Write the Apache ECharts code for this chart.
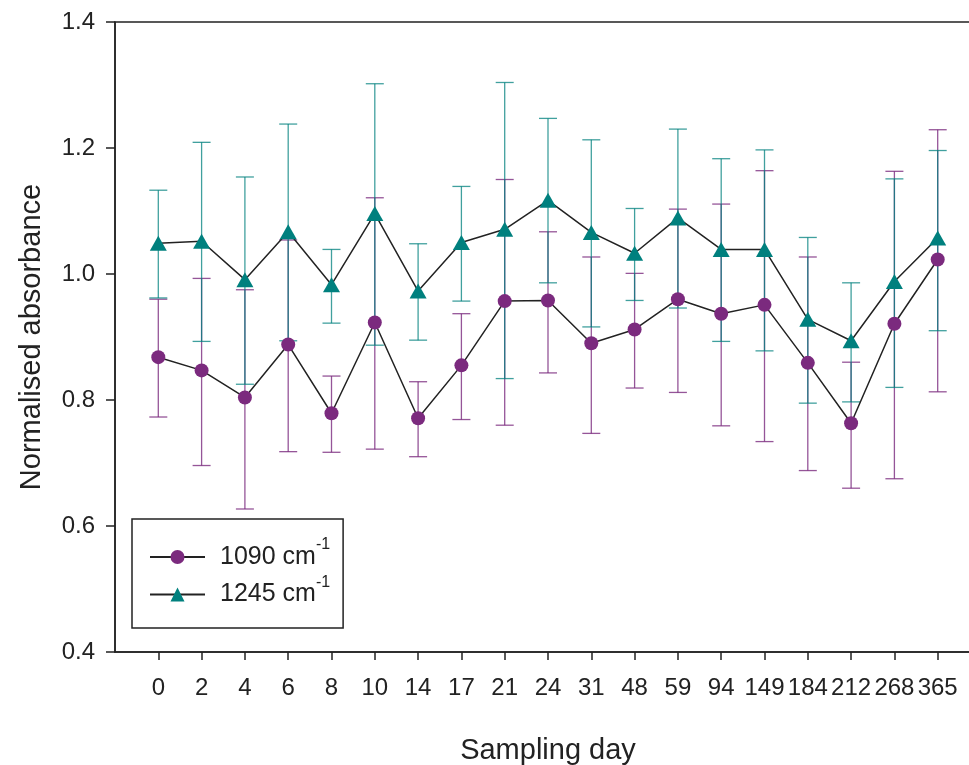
<!DOCTYPE html>
<html>
<head>
<meta charset="utf-8">
<script src="https://cdn.jsdelivr.net/npm/echarts@6/dist/echarts.min.js"></script>
<style>
  html, body { margin: 0; padding: 0; background: #fff; }
  #chart { width: 969px; height: 765px; }
</style>
</head>
<body>
<div id="chart"></div>
<script>
// Sampling days (category labels on the x axis)
const days = ['0', '2', '4', '6', '8', '10', '14', '17', '21', '24', '31', '48', '59', '94', '149', '184', '212', '268', '365'];

// 1090 cm-1 band: mean, lower and upper error-bar ends
const mean1090 = [0.868, 0.847, 0.804, 0.888, 0.779, 0.923, 0.771, 0.855, 0.957, 0.958, 0.890, 0.912, 0.960, 0.937, 0.951, 0.859, 0.763, 0.921, 1.023];
const low1090  = [0.773, 0.696, 0.627, 0.718, 0.717, 0.722, 0.710, 0.769, 0.760, 0.843, 0.747, 0.819, 0.812, 0.759, 0.734, 0.688, 0.660, 0.675, 0.813];
const high1090 = [0.960, 0.993, 0.975, 1.054, 0.838, 1.121, 0.829, 0.937, 1.150, 1.067, 1.027, 1.001, 1.103, 1.111, 1.164, 1.027, 0.860, 1.163, 1.229];

// 1245 cm-1 band: mean, lower and upper error-bar ends
const mean1245 = [1.049, 1.052, 0.991, 1.067, 0.983, 1.096, 0.973, 1.050, 1.071, 1.117, 1.066, 1.033, 1.089, 1.039, 1.039, 0.928, 0.894, 0.988, 1.057];
const low1245  = [0.962, 0.893, 0.825, 0.894, 0.922, 0.887, 0.895, 0.957, 0.834, 0.986, 0.916, 0.958, 0.946, 0.893, 0.878, 0.795, 0.797, 0.820, 0.910];
const high1245 = [1.133, 1.209, 1.154, 1.238, 1.039, 1.302, 1.048, 1.139, 1.304, 1.247, 1.213, 1.104, 1.230, 1.183, 1.197, 1.058, 0.986, 1.151, 1.196];

// y axis ticks
const yTicks = [0.4, 0.6, 0.8, 1.0, 1.2, 1.4];

const PURPLE = '#7b2a7e';
const TEAL = '#00807e';
const INK = '#222222';
const FONT = '"Liberation Sans", Arial, Helvetica, sans-serif';

const idx = days.map((d, i) => i);

function errorData(low, high) {
  return idx.map(i => [i, low[i], high[i]]);
}

function errorBars(color, opacity) {
  return function (params, api) {
    const x = api.value(0);
    const top = api.coord([x, api.value(2)]);
    const bot = api.coord([x, api.value(1)]);
    const half = 9;
    const style = { stroke: color, lineWidth: 1.3, opacity: opacity };
    return {
      type: 'group',
      children: [
        { type: 'line', shape: { x1: top[0], y1: top[1], x2: bot[0], y2: bot[1] }, style: style },
        { type: 'line', shape: { x1: top[0] - half, y1: top[1], x2: top[0] + half, y2: top[1] }, style: style },
        { type: 'line', shape: { x1: bot[0] - half, y1: bot[1], x2: bot[0] + half, y2: bot[1] }, style: style }
      ]
    };
  };
}

const chart = echarts.init(document.getElementById('chart'), null, { renderer: 'canvas' });

chart.setOption({
  animation: false,
  backgroundColor: '#ffffff',
  textStyle: { fontFamily: FONT },
  grid: {
    left: 115, top: 22, bottom: 113, right: -12,
    outerBoundsMode: 'none',
    show: true, borderColor: INK, borderWidth: 1.5, backgroundColor: 'transparent'
  },
  xAxis: {
    type: 'value',
    min: -1, max: 19, interval: 1,
    splitLine: { show: false },
    axisLine: { show: true, onZero: false, lineStyle: { color: INK, width: 1.5 } },
    axisTick: { show: true, length: 8, customValues: idx, lineStyle: { color: INK, width: 1.5 } },
    axisLabel: {
      customValues: idx,
      formatter: v => days[Math.round(v)],
      color: INK, fontSize: 24, margin: 24, fontFamily: FONT
    },
    name: 'Sampling day',
    nameLocation: 'middle',
    nameGap: 84,
    nameTextStyle: { color: INK, fontSize: 29, fontFamily: FONT }
  },
  yAxis: {
    type: 'value',
    min: 0.4, max: 1.4, interval: 0.2,
    splitLine: { show: false },
    axisLine: { show: true, onZero: false, lineStyle: { color: INK, width: 1.5 } },
    axisTick: { show: true, length: 9, customValues: yTicks, lineStyle: { color: INK, width: 1.5 } },
    axisLabel: {
      customValues: yTicks,
      formatter: v => v.toFixed(1),
      color: INK, fontSize: 24, margin: 20, fontFamily: FONT
    },
    name: 'Normalised absorbance',
    nameLocation: 'middle',
    nameGap: 69,
    nameTextStyle: { color: INK, fontSize: 29, fontFamily: FONT }
  },
  legend: {
    orient: 'vertical',
    left: 132, top: 519,
    padding: [18, 13, 21, 17],
    itemGap: 5,
    itemWidth: 55,
    itemHeight: 17.5,
    borderColor: INK,
    borderWidth: 1.5,
    data: ['1090', '1245'],
    formatter: name => '{t|' + name + ' cm}{s|-1}',
    textStyle: {
      color: INK,
      fontFamily: FONT,
      rich: {
        t: { fontSize: 25, lineHeight: 28, padding: [0, 0, 0, 10], fontFamily: FONT, color: INK },
        s: { fontSize: 16, lineHeight: 28, verticalAlign: 'top', fontFamily: FONT, color: INK, padding: [-6, 0, 0, 0] }
      }
    }
  },
  series: [
    {
      type: 'custom',
      name: 'err1090',
      renderItem: errorBars(PURPLE, 0.8),
      data: errorData(low1090, high1090),
      encode: { x: 0, y: [1, 2] },
      z: 1, silent: true
    },
    {
      type: 'custom',
      name: 'err1245',
      renderItem: errorBars(TEAL, 0.75),
      data: errorData(low1245, high1245),
      encode: { x: 0, y: [1, 2] },
      z: 2, silent: true
    },
    {
      type: 'line',
      name: '1090',
      data: idx.map(i => [i, mean1090[i]]),
      symbol: 'circle',
      symbolSize: 14,
      showAllSymbol: true,
      itemStyle: { color: PURPLE },
      lineStyle: { color: INK, width: 1.5 },
      z: 3
    },
    {
      type: 'line',
      name: '1245',
      data: idx.map(i => [i, mean1245[i]]),
      symbol: 'triangle',
      symbolSize: [17, 15],
      showAllSymbol: true,
      itemStyle: { color: TEAL },
      lineStyle: { color: INK, width: 1.5 },
      z: 4
    }
  ]
});
</script>
</body>
</html>
